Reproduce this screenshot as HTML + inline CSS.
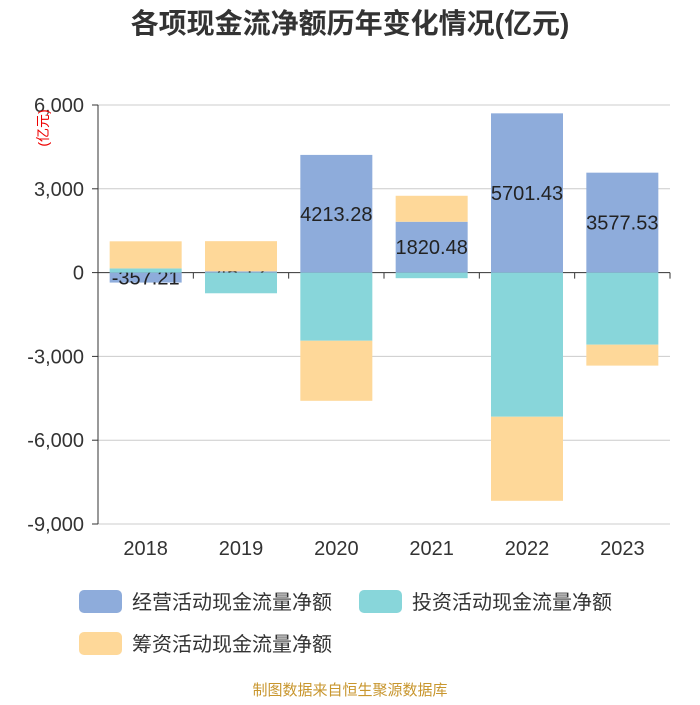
<!DOCTYPE html>
<html><head><meta charset="utf-8"><style>
body{margin:0;background:#fff}
svg text{font-family:"Liberation Sans","Noto Sans CJK SC",sans-serif}
</style></head><body>
<svg id="c" width="700" height="700" xmlns="http://www.w3.org/2000/svg">
<text x="350" y="33" text-anchor="middle" font-size="28" font-weight="bold" fill="#333">各项现金流净额历年变化情况(亿元)</text>
<g id="grid"></g><g id="bars"></g><g id="axes"></g>
<text transform="translate(48,128) rotate(-90)" text-anchor="middle" font-size="14" fill="#e00">(亿元)</text>
<g>
<rect x="79" y="590" width="43" height="23" rx="5" fill="#8eacdb"/>
<text x="132" y="609" font-size="20" fill="#333">经营活动现金流量净额</text>
<rect x="359" y="590" width="43" height="23" rx="5" fill="#88d6da"/>
<text x="412" y="609" font-size="20" fill="#333">投资活动现金流量净额</text>
<rect x="79" y="632" width="43" height="23" rx="5" fill="#fed899"/>
<text x="132" y="651" font-size="20" fill="#333">筹资活动现金流量净额</text>
</g>
<text x="350" y="695" text-anchor="middle" font-size="15" fill="#c8962e">制图数据来自恒生聚源数据库</text>
</svg>
<script>
const categories=["2018","2019","2020","2021","2022","2023"];
const operating=[-357.21,45.12,4213.28,1820.48,5701.43,3577.53];
const investing=[150,-740,-2440,-200,-5160,-2580];
const financing=[970,1080,-2150,930,-3010,-750];
const yTicks=[6000,3000,0,-3000,-6000,-9000];
const NS="http://www.w3.org/2000/svg";
const X0=98,X1=670,yMax=6000,yMin=-9000,Y0=105,Y1=524;
const y=v=>Y0+(yMax-v)/(yMax-yMin)*(Y1-Y0);
const band=(X1-X0)/categories.length;
const xc=i=>X0+band*(i+0.5);
function mk(tag,at,p){const e=document.createElementNS(NS,tag);for(const k in at)e.setAttribute(k,at[k]);p.appendChild(e);return e;}
const grid=document.getElementById('grid'),bars=document.getElementById('bars'),axes=document.getElementById('axes');
yTicks.forEach(t=>{
 const l=mk('line',{x1:X0,x2:X1,y1:y(t),y2:y(t),stroke:t===0?'#333':'#ccc','stroke-width':1},grid);
 
 
 const tk=mk('line',{x1:X0-6,x2:X0,y1:y(t),y2:y(t),stroke:'#333'},axes);
 
 
 const tx=mk('text',{x:X0-14,y:y(t)+7,'text-anchor':'end','font-size':20,fill:'#333'},axes);
 tx.textContent=t.toLocaleString('en-US');
 
 
});
const ya=mk('line',{x1:X0,x2:X0,y1:Y0,y2:Y1,stroke:'#333'},axes);


categories.forEach((c,i)=>{
 const tk=mk('line',{x1:X0+band*(i+1),x2:X0+band*(i+1),y1:y(0),y2:y(0)+6,stroke:'#333'},axes);
 
 
 const tx=mk('text',{x:xc(i),y:555,'text-anchor':'middle','font-size':20,fill:'#333'},axes);
 tx.textContent=c;
 
 
});
const pos=categories.map(()=>0),neg=categories.map(()=>0);
const series=[[operating,'#8eacdb','operating'],[investing,'#88d6da','investing'],[financing,'#fed899','financing']];
const bw=72;
series.forEach(([arr,col,nm],si)=>{
 arr.forEach((v,i)=>{
  let a,b;
  if(v>=0){a=pos[i];b=pos[i]+v;pos[i]=b;}else{a=neg[i];b=neg[i]+v;neg[i]=b;}
  const top=Math.min(y(a),y(b)),h=Math.abs(y(a)-y(b));
  const r=mk('rect',{x:xc(i)-bw/2,y:top,width:bw,height:h,fill:col},bars);
  
  
  if(si===0){
   const t=mk('text',{x:xc(i),y:top+h/2+7,'text-anchor':'middle','font-size':20,fill:'#222'},bars);
   t.textContent=v.toFixed(2);
   
   
  }
 });
});
</script>
</body></html>
